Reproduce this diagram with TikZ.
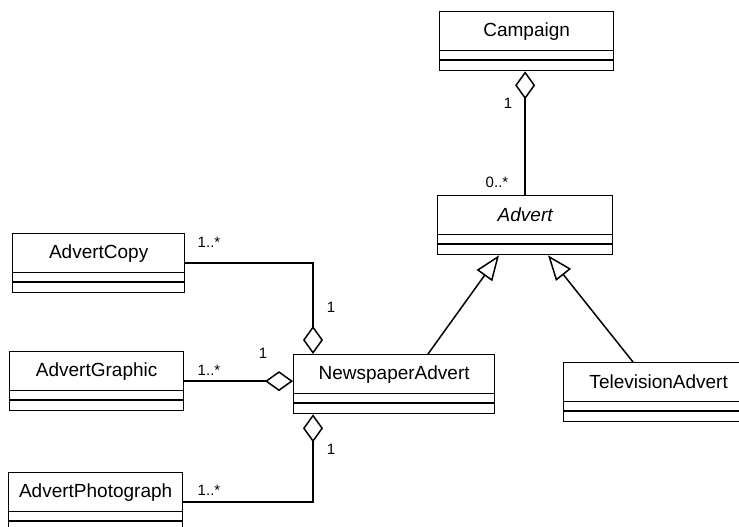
\documentclass[tikz,border=0pt]{standalone}
\usepackage{fontspec}
\setmainfont{Liberation Sans}
\usetikzlibrary{arrows.meta,calc}
\tikzset{
 clsbox/.style={draw, line width=1.3pt, minimum height=59pt, inner sep=0pt, anchor=north west},
 clsname/.style={draw, line width=1.3pt, minimum height=39pt, inner sep=0pt, anchor=north west, font=\fontsize{19}{21}\selectfont},
 conn/.style={line width=1.5pt},
 agg/.style={conn, -{Diamond[open, length=28pt, width=20pt]}},
 gen/.style={conn, -{Triangle[open, length=25pt, width=19pt]}},
 mult/.style={font=\fontsize{15}{17}\selectfont, inner sep=0pt}
}
\newcommand\umlcls[5]{%
 \node[clsbox, minimum width=#4pt] (#1) at (#2,#3) {};
 \node[clsname, minimum width=#4pt] (#1-name) at (#2,#3) {\raisebox{-2pt}{#5}};
 \draw[line width=1.3pt] ($(#1.north west)+(0,49)$) -- ($(#1.north east)+(0,49)$);
}
\begin{document}
\begin{tikzpicture}[x=1pt,y=-1pt]
\useasboundingbox (0,0) rectangle (739,527);
\clip (0,0) rectangle (739,527);
\fill[white] (0,0) rectangle (739,527);
\umlcls{Campaign}{439}{11}{174}{Campaign}
\umlcls{Advert}{437}{195}{175}{\itshape Advert}
\umlcls{AdvertCopy}{12}{233}{172}{AdvertCopy}
\umlcls{AdvertGraphic}{9}{351}{174}{AdvertGraphic}
\umlcls{NewspaperAdvert}{293}{354}{201}{NewspaperAdvert}
\umlcls{TelevisionAdvert}{563}{362}{190}{TelevisionAdvert}
\umlcls{AdvertPhotograph}{8}{472}{174}{AdvertPhotograph}
% aggregation Campaign - Advert
\draw[agg] (Advert.north) -- (Advert.north |- Campaign.south);
% generalisations
\draw[gen] ($(NewspaperAdvert.north west)+(135,0)$) -- ($(Advert.south west)+(62,0)$);
\draw[gen] ($(TelevisionAdvert.north west)+(70,0)$) -- ($(Advert.south west)+(111,0)$);
% parts of NewspaperAdvert
\draw[agg] (AdvertCopy.east) -| ($(NewspaperAdvert.north west)+(20,0)$);
\draw[agg] (AdvertGraphic.east) -- (AdvertGraphic.east -| NewspaperAdvert.west);
\draw[conn, {Diamond[open, length=28pt, width=20pt]}-] ($(NewspaperAdvert.south west)+(20,0)$) |- (AdvertPhotograph.east);
% multiplicities
\node[mult] (m1) at (508,103) {1};
\node[mult] (m2) at (497,182) {0..*};
\node[mult] (m3) at (209,242) {1..*};
\node[mult] (m4) at (331,307) {1};
\node[mult] (m5) at (209,370) {1..*};
\node[mult] (m6) at (263,353) {1};
\node[mult] (m7) at (331,449) {1};
\node[mult] (m8) at (209,490) {1..*};
\end{tikzpicture}
\end{document}
